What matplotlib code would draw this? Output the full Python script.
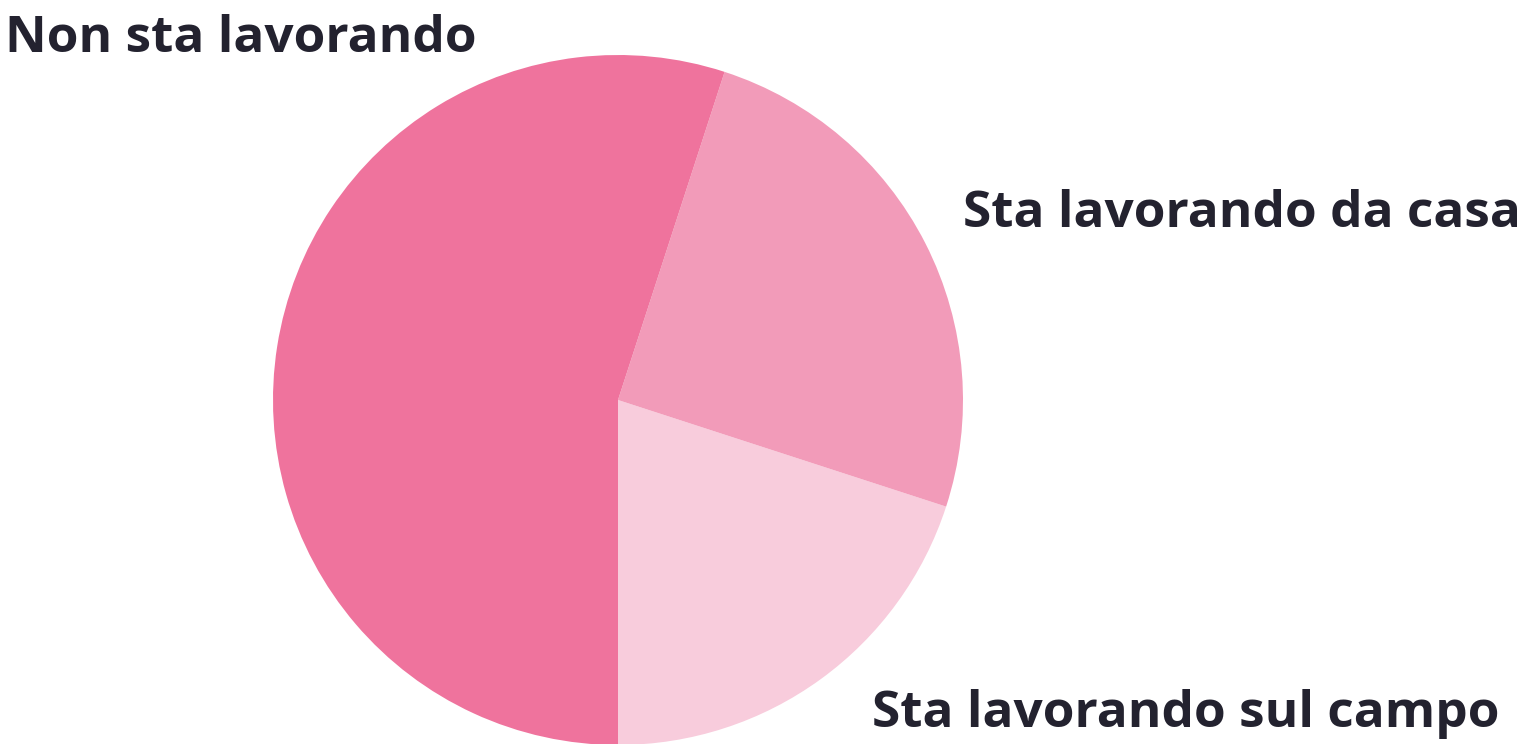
import matplotlib.pyplot as plt

# slices listed counter-clockwise starting from straight down
labels = ["Sta lavorando sul campo", "Sta lavorando da casa", "Non sta lavorando"]
shares = [20, 25, 55]
colors = ["#F8CCDC", "#F29BB9", "#EF739D"]

W, H = 1538, 744
fig = plt.figure(figsize=(W / 100, H / 100), dpi=100)
fig.patch.set_facecolor("white")

# pie centre ~ (618, 400) px, radius ~345 px
cx, cy, r = 618, 400, 345
ax = fig.add_axes([(cx - r) / W, (H - cy - r) / H, 2 * r / W, 2 * r / H])
ax.pie(shares, colors=colors, startangle=-90, counterclock=True, radius=1,
       wedgeprops=dict(linewidth=0))
ax.set_xlim(-1, 1)
ax.set_ylim(-1, 1)
ax.set_aspect("equal")
ax.axis("off")

txt = dict(fontsize=37, fontweight="bold", color="#23222F",
           family=["Open Sans", "DejaVu Sans"], va="baseline", ha="left")
# label anchors (left x, baseline y) in pixels
pos = {
    "Non sta lavorando": (5, 52),
    "Sta lavorando da casa": (963, 227),
    "Sta lavorando sul campo": (872, 727),
}
for name, (x, y) in pos.items():
    fig.text(x / W, 1 - y / H, name, **txt)

fig.savefig("out.png", dpi=100)
